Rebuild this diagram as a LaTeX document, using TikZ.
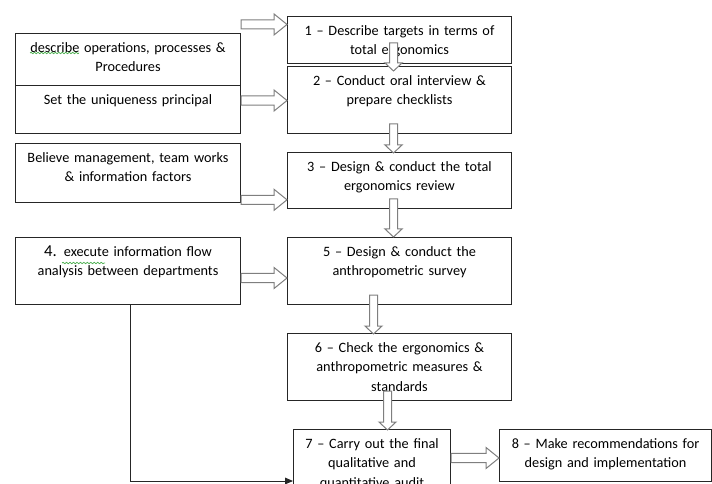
\documentclass[tikz,border=0pt]{standalone}
\usepackage{fontspec}
\setmainfont{Carlito}
\usetikzlibrary{calc,arrows.meta,decorations.pathmorphing}

\definecolor{boxline}{HTML}{262626}
\definecolor{arrowline}{HTML}{7F7F7F}
\definecolor{squiggle}{HTML}{4CAF50}

\begin{document}
\begin{tikzpicture}[x=0.75pt, y=-0.75pt,
    card/.style={draw=boxline, line width=0.75pt, anchor=north west, align=center,
      inner xsep=4pt, inner ysep=0pt, text height=14pt,
      font=\fontsize{10.7}{14.6}\selectfont},
    lbox/.style={card, text width=160.75pt},
    rbox/.style={card, text width=160pt},
    harrow/.style={draw=arrowline, fill=white, line width=0.75pt,
      to path={let \p1=(\tikztostart), \p2=(\tikztotarget) in
        (\x1,\y1+3.4pt) -- (\x2-9.75pt,\y1+3.4pt) -- (\x2-9.75pt,\y1+7.9pt) -- (\x2,\y1)
        -- (\x2-9.75pt,\y1-7.9pt) -- (\x2-9.75pt,\y1-3.4pt) -- (\x1,\y1-3.4pt) -- cycle}},
    varrow/.style={draw=arrowline, fill=white, line width=0.75pt,
      to path={let \p1=(\tikztostart), \p2=(\tikztotarget) in
        (\x1-3pt,\y1) -- (\x1-3pt,\y2+6pt) -- (\x1-6.4pt,\y2+6pt) -- (\x1,\y2)
        -- (\x1+6.4pt,\y2+6pt) -- (\x1+3pt,\y2+6pt) -- (\x1+3pt,\y1) -- cycle}},
    spelling/.style={squiggle, line width=0.55pt, decorate,
      decoration={snake, amplitude=0.55pt, segment length=2.6pt}}]
    \useasboundingbox (0,0) rectangle (712,484);
    \clip (0,0) rectangle (712,484);

    % left column
    \node[lbox, text depth=25pt] (l1a) at (15,33) {describe operations, processes \&\\Procedures};
    \node[lbox, text depth=22pt] (l1b) at (15,85) {Set the uniqueness principal};
    \node[lbox, text depth=30.25pt] (l2) at (15,143) {Believe management, team works\\\& information factors};
    \node[lbox, text depth=36.25pt] (l3) at (15,237) {{\fontsize{12.5}{14.6}\selectfont 4.} execute information flow\\analysis between departments};

    % right column
    \node[rbox, text depth=21.25pt] (r1) at (287,16) {1 -- Describe targets in terms of\\total ergonomics};
    \node[rbox, text depth=36.25pt] (r2) at (287,66) {2 -- Conduct oral interview \&\\prepare checklists};
    \node[rbox, text depth=28pt] (r3) at (287,152) {3 -- Design \& conduct the total\\ergonomics review};
    \node[rbox, text depth=36.25pt] (r5) at (287,237) {5 -- Design \& conduct the\\anthropometric survey};
    \node[rbox, text depth=36.25pt] (r6) at (287,333) {6 -- Check the ergonomics \&\\anthropometric measures \&\\standards};
    \node[card, text width=109.75pt, text depth=38.5pt] (r7) at (293,429) {7 -- Carry out the final\\qualitative and\\quantitative audit};
    \node[card, text width=151pt, text depth=25pt] (r8) at (499,429) {8 -- Make recommendations for\\design and implementation};

    % spell-check marks under two words
    \draw[spelling] ($(l1a.north west)+(15,20)$) -- ($(l1a.north west)+(64,20)$);
    \draw[spelling] ($(l3.north west)+(47,26)$) -- ($(l3.north west)+(90,26)$);

    % block arrows
    \draw[harrow] ([yshift=6.4pt]l1a.north east) to ([yshift=6.4pt]l1a.north east -| r1.west);
    \draw[harrow] ([yshift=6.75pt]l1b.east) to ([yshift=6.75pt]l1b.east -| r2.west);
    \draw[harrow] ([yshift=2.4pt]l2.south east) to ([yshift=2.4pt]l2.south east -| r3.west);
    \draw[harrow] ([yshift=-5.25pt]l3.east) to ([yshift=-5.25pt]l3.east -| r5.west);
    \draw[harrow] ([yshift=-21.75pt]r7.north east) to ([yshift=-21.75pt]r7.north east -| r8.west);

    \draw[varrow] ([xshift=-4.5pt,yshift=15.75pt]r1.south) to ([xshift=-4.5pt,yshift=-3.75pt]r2.north);
    \draw[varrow] ([xshift=-4.5pt,yshift=7.5pt]r2.south) to ([xshift=-4.5pt,yshift=-0.75pt]r3.north);
    \draw[varrow] ([xshift=-4.5pt,yshift=7.5pt]r3.south) to ([xshift=-4.5pt]r5.north);
    \draw[varrow] ([xshift=-19.5pt,yshift=7.5pt]r5.south) to ([xshift=-19.5pt,yshift=-0.75pt]r6.north);
    \draw[varrow] ([xshift=-9pt,yshift=7.5pt]r6.south) to ([xshift=-9pt,yshift=-0.75pt]r6.south |- r7.north);

    % feed from the analysis box into the audit
    \coordinate (r7in) at ([yshift=-39pt]r7.north west);
    \draw[boxline, line width=0.75pt, -{Triangle[length=6pt,width=5pt]}] ([xshift=1.9pt]l3.south) |- (r7in);
\end{tikzpicture}
\end{document}
